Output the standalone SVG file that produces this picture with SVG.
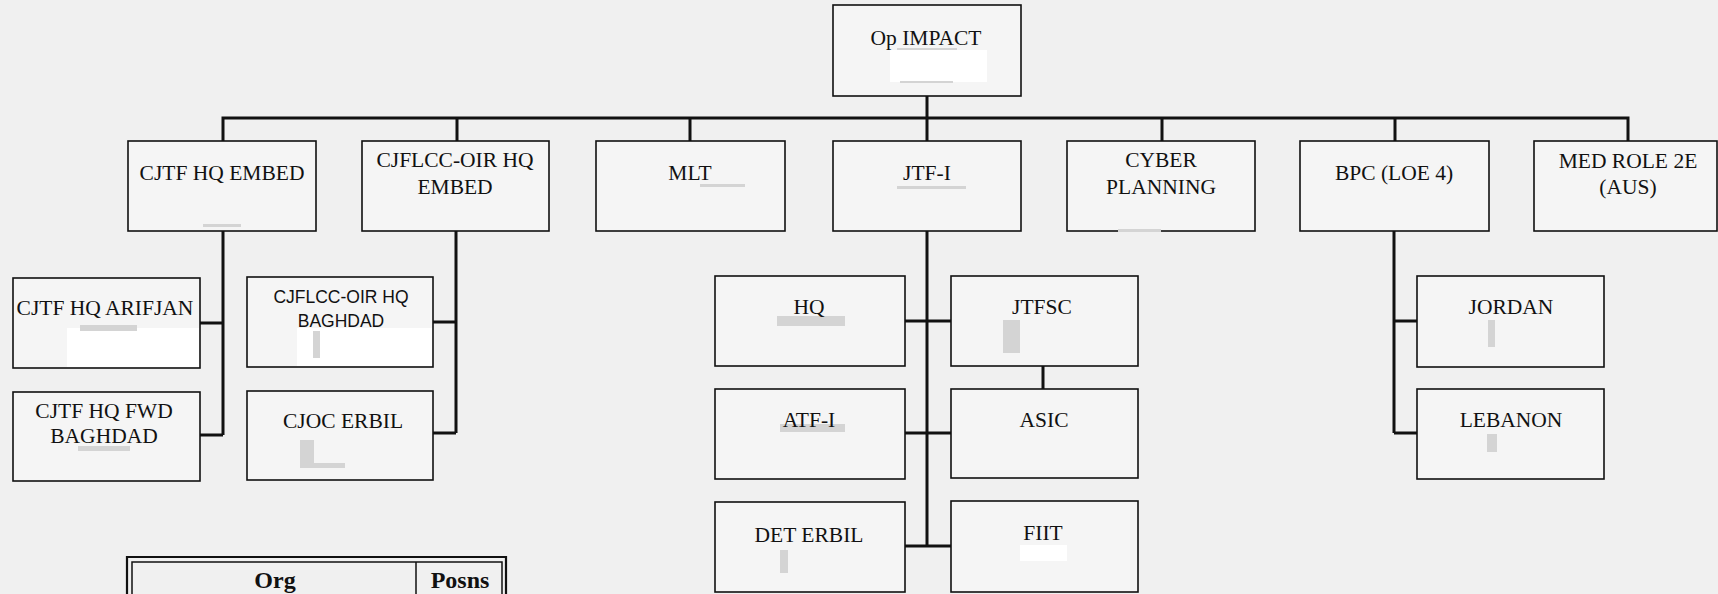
<svg xmlns="http://www.w3.org/2000/svg" width="1718" height="594" viewBox="0 0 1718 594">
<style>
.bg{fill:#f0f0f0}
.box{fill:#f5f5f5;stroke:#111;stroke-width:1.6}
.t{font-family:"Liberation Serif","Times New Roman",serif;font-size:21.5px;fill:#111;text-anchor:middle}
.ts{font-family:"Liberation Sans",Arial,sans-serif;font-size:17.5px;fill:#111;text-anchor:middle}
.tb{font-family:"Liberation Serif","Times New Roman",serif;font-size:24px;font-weight:bold;fill:#111;text-anchor:middle}
.c{fill:none;stroke:#111;stroke-width:3}
.w{fill:#ffffff}
.g{fill:#d4d4d4}
.leg{fill:none;stroke:#111}
</style>
<rect class="bg" x="0" y="0" width="1718" height="594"/>
<g id="connectors">
<path class="c" d="M927,96 V118"/>
<path class="c" d="M223,142 V118 H1628 V141"/>
<path class="c" d="M457,118 V141 M690,118 V141 M927,118 V141 M1162,118 V141 M1395,118 V141"/>
<path class="c" d="M223,231 V435 M200,323 H223 M200,435 H223"/>
<path class="c" d="M456,231 V433 M433,322 H456 M433,433 H456"/>
<path class="c" d="M927,231 V546 M905,321 H951 M905,433 H951 M905,546 H951"/>
<path class="c" d="M1043,366 V389"/>
<path class="c" d="M1394,231 V433 M1394,321 H1417 M1394,433 H1417"/>
</g>
<g id="op-impact">
<rect class="box" x="833" y="5" width="188" height="91"/>
<rect class="w" x="890" y="50" width="97" height="32"/>
<rect class="g" x="897" y="48" width="60" height="2"/>
<rect class="g" x="900" y="81" width="53" height="2"/>
<text class="t" x="926" y="45">Op IMPACT</text>
</g>
<g id="cjtf-hq-embed">
<rect class="box" x="128" y="141" width="188" height="90"/>
<rect class="g" x="203" y="224" width="38" height="3"/>
<text class="t" x="222" y="180">CJTF HQ EMBED</text>
</g>
<g id="cjflcc-oir-hq-embed">
<rect class="box" x="362" y="141" width="187" height="90"/>
<text class="t" x="455" y="167">CJFLCC-OIR HQ</text>
<text class="t" x="455" y="194">EMBED</text>
</g>
<g id="mlt">
<rect class="box" x="596" y="141" width="189" height="90"/>
<rect class="g" x="700" y="184" width="45" height="3"/>
<text class="t" x="690" y="180">MLT</text>
</g>
<g id="jtf-i">
<rect class="box" x="833" y="141" width="188" height="90"/>
<rect class="g" x="897" y="186" width="69" height="3"/>
<text class="t" x="927" y="180">JTF-I</text>
</g>
<g id="cyber-planning">
<rect class="box" x="1067" y="141" width="188" height="90"/>
<rect class="g" x="1118" y="229" width="43" height="3"/>
<text class="t" x="1161" y="167">CYBER</text>
<text class="t" x="1161" y="194">PLANNING</text>
</g>
<g id="bpc">
<rect class="box" x="1300" y="141" width="189" height="90"/>
<text class="t" x="1394" y="180">BPC (LOE 4)</text>
</g>
<g id="med-role">
<rect class="box" x="1534" y="141" width="183" height="90"/>
<text class="t" x="1628" y="168">MED ROLE 2E</text>
<text class="t" x="1628" y="194">(AUS)</text>
</g>
<g id="cjtf-hq-arifjan">
<rect class="box" x="13" y="278" width="187" height="90"/>
<rect class="w" x="67" y="328" width="132" height="39"/>
<rect class="g" x="80" y="325" width="57" height="6"/>
<text class="t" x="105" y="315">CJTF HQ ARIFJAN</text>
</g>
<g id="cjtf-hq-fwd-baghdad">
<rect class="box" x="13" y="392" width="187" height="89"/>
<rect class="g" x="78" y="446" width="52" height="5"/>
<text class="t" x="104" y="418">CJTF HQ FWD</text>
<text class="t" x="104" y="443">BAGHDAD</text>
</g>
<g id="cjflcc-oir-hq-baghdad">
<rect class="box" x="247" y="277" width="186" height="90"/>
<rect class="w" x="297" y="328" width="135" height="38"/>
<rect class="g" x="313" y="331" width="7" height="27"/>
<text class="ts" x="341" y="303">CJFLCC-OIR HQ</text>
<text class="ts" x="341" y="327">BAGHDAD</text>
</g>
<g id="cjoc-erbil">
<rect class="box" x="247" y="391" width="186" height="89"/>
<rect class="g" x="300" y="440" width="14" height="28"/>
<rect class="g" x="300" y="463" width="45" height="5"/>
<text class="t" x="343" y="428">CJOC ERBIL</text>
</g>
<g id="hq">
<rect class="box" x="715" y="276" width="190" height="90"/>
<rect class="g" x="777" y="316" width="68" height="10"/>
<text class="t" x="809" y="314">HQ</text>
</g>
<g id="atf-i">
<rect class="box" x="715" y="389" width="190" height="90"/>
<rect class="g" x="780" y="424" width="65" height="8"/>
<text class="t" x="809" y="427">ATF-I</text>
</g>
<g id="det-erbil">
<rect class="box" x="715" y="502" width="190" height="90"/>
<rect class="g" x="780" y="550" width="8" height="23"/>
<text class="t" x="809" y="542">DET ERBIL</text>
</g>
<g id="jtfsc">
<rect class="box" x="951" y="276" width="187" height="90"/>
<rect class="g" x="1003" y="320" width="17" height="33"/>
<text class="t" x="1042" y="314">JTFSC</text>
</g>
<g id="asic">
<rect class="box" x="951" y="389" width="187" height="89"/>
<text class="t" x="1044" y="427">ASIC</text>
</g>
<g id="fiit">
<rect class="box" x="951" y="501" width="187" height="91"/>
<rect class="w" x="1020" y="545" width="47" height="16"/>
<text class="t" x="1043" y="540">FIIT</text>
</g>
<g id="jordan">
<rect class="box" x="1417" y="276" width="187" height="91"/>
<rect class="g" x="1488" y="320" width="7" height="27"/>
<text class="t" x="1511" y="314">JORDAN</text>
</g>
<g id="lebanon">
<rect class="box" x="1417" y="389" width="187" height="90"/>
<rect class="g" x="1487" y="434" width="10" height="18"/>
<text class="t" x="1511" y="427">LEBANON</text>
</g>
<g id="legend">
<path class="leg" stroke-width="2.2" d="M127,594 V557 H506 V594"/>
<path class="leg" stroke-width="1.5" d="M132,594 V562 H502 V594"/>
<path class="leg" stroke-width="1.5" d="M416,562 V594"/>
<text class="tb" x="275" y="588">Org</text>
<text class="tb" x="460" y="588">Posns</text>
</g>
</svg>
